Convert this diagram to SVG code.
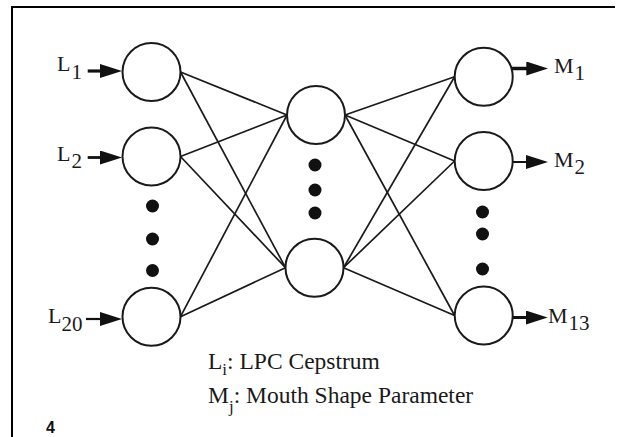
<svg xmlns="http://www.w3.org/2000/svg" width="620" height="437" viewBox="0 0 620 437">
  <style>
    .node { fill: #ffffff; stroke: #1a1a1a; stroke-width: 2; }
    .dot { fill: #111111; }
    .edge { stroke: #1a1a1a; stroke-width: 1.7; fill: none; }
    .arrow { stroke: #111111; fill: none; marker-end: url(#head); }
    .lbl { font-family: "Liberation Serif", "Times New Roman", serif; font-size: 22px; fill: #1a1a1a; }
    .sub { font-size: 21px; }
    .legend { font-family: "Liberation Serif", "Times New Roman", serif; font-size: 23.5px; fill: #1a1a1a; }
    .lsub { font-size: 17px; }
    .frame { stroke: #000000; stroke-width: 2; fill: none; }
    .fig { font-family: "Liberation Sans", Arial, sans-serif; font-weight: bold; font-size: 16px; fill: #111111; }
  </style>
  <defs>
    <marker id="head" markerUnits="userSpaceOnUse" viewBox="0 0 22 14" refX="12" refY="7" markerWidth="22" markerHeight="14" orient="auto">
      <path d="M0,0 L22,7 L0,14 z" fill="#111111"/>
    </marker>
  </defs>

  <rect width="620" height="437" fill="#ffffff"/>
  <path class="frame" d="M12,437 V7 H615"/>

  <g id="connectors">
    <line class="edge" x1="180.5" y1="72" x2="287" y2="115"/>
    <line class="edge" x1="180.5" y1="72" x2="285.5" y2="267.7"/>
    <line class="edge" x1="180.5" y1="156.5" x2="287" y2="115"/>
    <line class="edge" x1="180.5" y1="156.5" x2="285.5" y2="267.7"/>
    <line class="edge" x1="180.5" y1="316.7" x2="287" y2="115"/>
    <line class="edge" x1="180.5" y1="316.7" x2="285.5" y2="267.7"/>
    <line class="edge" x1="345" y1="115" x2="454.6" y2="76.7"/>
    <line class="edge" x1="345" y1="115" x2="454.6" y2="161"/>
    <line class="edge" x1="345" y1="115" x2="454.6" y2="315.5"/>
    <line class="edge" x1="343.5" y1="267.7" x2="454.6" y2="76.7"/>
    <line class="edge" x1="343.5" y1="267.7" x2="454.6" y2="161"/>
    <line class="edge" x1="343.5" y1="267.7" x2="454.6" y2="315.5"/>
    <line class="arrow" x1="87.7" y1="71" x2="112" y2="71" stroke-width="3.2"/>
    <line class="arrow" x1="87.7" y1="157.5" x2="112" y2="157.5" stroke-width="2.8"/>
    <line class="arrow" x1="86" y1="319" x2="112" y2="319" stroke-width="2.2"/>
    <line class="arrow" x1="511.5" y1="68.5" x2="538.3" y2="68.5" stroke-width="3.5"/>
    <line class="arrow" x1="513" y1="162" x2="538" y2="162" stroke-width="2"/>
    <line class="arrow" x1="512.7" y1="317.5" x2="537.7" y2="317.5" stroke-width="3"/>
  </g>

  <g id="input-L1">
    <circle class="node" cx="151.5" cy="72" r="29"/>
    <text class="lbl" x="57" y="71">L<tspan class="sub" dx="1" dy="8.3">1</tspan></text>
  </g>
  <g id="input-L2">
    <circle class="node" cx="151.5" cy="156.5" r="29"/>
    <text class="lbl" x="57" y="160.7">L<tspan class="sub" dx="1" dy="7.6">2</tspan></text>
  </g>
  <g id="input-dots">
    <circle class="dot" cx="152.5" cy="206" r="6.5"/>
    <circle class="dot" cx="152.5" cy="239" r="6.5"/>
    <circle class="dot" cx="152.5" cy="270.5" r="6.5"/>
  </g>
  <g id="input-L20">
    <circle class="node" cx="151.5" cy="316.7" r="29"/>
    <text class="lbl" x="48" y="323.3">L<tspan class="sub" dy="7.7">20</tspan></text>
  </g>

  <g id="hidden-top">
    <circle class="node" cx="316" cy="115" r="29"/>
  </g>
  <g id="hidden-dots">
    <circle class="dot" cx="315" cy="165" r="6.5"/>
    <circle class="dot" cx="315" cy="190" r="6.5"/>
    <circle class="dot" cx="315" cy="213" r="6.5"/>
  </g>
  <g id="hidden-bottom">
    <circle class="node" cx="314.5" cy="267.7" r="29"/>
  </g>

  <g id="output-M1">
    <circle class="node" cx="483.7" cy="76.7" r="29"/>
    <text class="lbl" x="554" y="73">M<tspan class="sub" dx="1" dy="7">1</tspan></text>
  </g>
  <g id="output-M2">
    <circle class="node" cx="483.7" cy="161" r="29"/>
    <text class="lbl" x="554" y="166.7">M<tspan class="sub" dx="1" dy="7.3">2</tspan></text>
  </g>
  <g id="output-dots">
    <circle class="dot" cx="482.5" cy="212" r="6.5"/>
    <circle class="dot" cx="482.5" cy="234" r="6.5"/>
    <circle class="dot" cx="482.5" cy="269" r="6.5"/>
  </g>
  <g id="output-M13">
    <circle class="node" cx="483.7" cy="315.5" r="29"/>
    <text class="lbl" x="548" y="323.3">M<tspan class="sub" dx="1" dy="6.7">13</tspan></text>
  </g>

  <g id="legend">
    <text class="legend" x="208" y="369.3">L<tspan class="lsub" dy="6">i</tspan><tspan dy="-6">: LPC Cepstrum</tspan></text>
    <text class="legend" x="208" y="402.7">M<tspan class="lsub" dy="9">j</tspan><tspan dy="-9">: Mouth Shape Parameter</tspan></text>
  </g>

  <text class="fig" x="46" y="432.5">4</text>
</svg>
